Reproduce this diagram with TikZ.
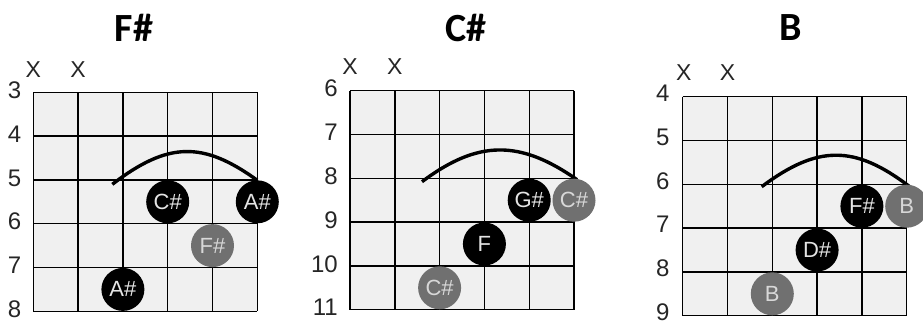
\documentclass[tikz,border=0pt]{standalone}
\usepackage{fontspec}
\setmainfont{Liberation Sans}
\newfontfamily\titlefont{Carlito}
\definecolor{gridfill}{HTML}{F0F0F0}
\definecolor{dotgray}{HTML}{707070}
\definecolor{dottext}{HTML}{E4E4E4}
\definecolor{graytext}{HTML}{D8D8D8}
\begin{document}
\begin{tikzpicture}[x=1pt,y=-1pt,
  gridline/.style={line width=1.4pt, black},
  barre/.style={line width=3.4pt, black},
  dotbase/.style={circle, minimum size=43pt, inner sep=0pt, font=\fontsize{22}{22}\selectfont},
  blackdot/.style={dotbase, fill=black, text=dottext},
  graydot/.style={dotbase, fill=dotgray, text=graytext},
  fretnum/.style={anchor=east, inner sep=0pt, font=\fontsize{24}{24}\selectfont, text=black!85},
  mutemark/.style={inner sep=0pt, font=\fontsize{23}{23}\selectfont, text=black!85},
  title/.style={inner sep=0pt, font=\titlefont\bfseries\fontsize{40}{40}\selectfont}
]
\useasboundingbox (0,0) rectangle (923,325);

% titles
\node[title] (t1) at (134,28) {F\#};
\node[title] (t2) at (466,28) {C\#};
\node[title] (t3) at (791,28) {B};

% ---------- F# ----------
\begin{scope}[shift={(33.3,92.3)}]
  \fill[gridfill] (0,0) rectangle (224,219);
  \foreach \i in {0,...,5} \draw[gridline] (\i*44.8,0) -- (\i*44.8,219);
  \foreach \j in {0,...,5} \draw[gridline] (0,\j*43.8) -- (224,\j*43.8);
  \foreach \j [evaluate=\j as \n using int(\j+3)] in {0,...,5}
    \node[fretnum] (a-f\j) at (-12,\j*43.8-2) {\n};
  \node[mutemark] (a-x1) at (0,-23) {X};
  \node[mutemark] (a-x2) at (44.8,-23) {X};
  \draw[barre] (79,92) .. controls (135,49) and (170,49) .. (224,88);
  \node[blackdot] (a-d1) at (3*44.8,2.5*43.8) {C\#};
  \node[blackdot] (a-d2) at (5*44.8,2.5*43.8) {A\#};
  \node[graydot]  (a-d3) at (4*44.8,3.5*43.8) {F\#};
  \node[blackdot] (a-d4) at (2*44.8,4.5*43.8) {A\#};
\end{scope}

% ---------- C# ----------
\begin{scope}[shift={(350,90.7)}]
  \fill[gridfill] (0,0) rectangle (224,219);
  \foreach \i in {0,...,5} \draw[gridline] (\i*44.8,0) -- (\i*44.8,219);
  \foreach \j in {0,...,5} \draw[gridline] (0,\j*43.8) -- (224,\j*43.8);
  \foreach \j [evaluate=\j as \n using int(\j+6)] in {0,...,5}
    \node[fretnum] (b-f\j) at (-12,\j*43.8-2) {\n};
  \node[mutemark] (b-x1) at (0,-24) {X};
  \node[mutemark] (b-x2) at (44.8,-24) {X};
  \draw[barre] (72,91) .. controls (128,49) and (170,49) .. (227,89);
  \node[blackdot] (b-d1) at (4*44.8,2.5*43.8) {G\#};
  \node[graydot]  (b-d2) at (5*44.8,2.5*43.8) {C\#};
  \node[blackdot] (b-d3) at (3*44.8,3.5*43.8) {F};
  \node[graydot]  (b-d4) at (2*44.8,4.5*43.8) {C\#};
\end{scope}

% ---------- B ----------
\begin{scope}[shift={(682.7,96.7)}]
  \fill[gridfill] (0,0) rectangle (224,219);
  \foreach \i in {0,...,5} \draw[gridline] (\i*44.8,0) -- (\i*44.8,219);
  \foreach \j in {0,...,5} \draw[gridline] (0,\j*43.8) -- (224,\j*43.8);
  \foreach \j [evaluate=\j as \n using int(\j+4)] in {0,...,5}
    \node[fretnum] (c-f\j) at (-13,\j*43.8-3.5) {\n};
  \node[mutemark] (c-x1) at (1,-24) {X};
  \node[mutemark] (c-x2) at (44.8,-24) {X};
  \draw[barre] (79,90) .. controls (135,48) and (172,48) .. (227,90);
  \node[blackdot] (c-d1) at (4*44.8,2.5*43.8) {F\#};
  \node[graydot]  (c-d2) at (5*44.8,2.5*43.8) {B};
  \node[blackdot] (c-d3) at (3*44.8,3.5*43.8) {D\#};
  \node[graydot]  (c-d4) at (2*44.8,4.5*43.8) {B};
\end{scope}
\end{tikzpicture}
\end{document}
